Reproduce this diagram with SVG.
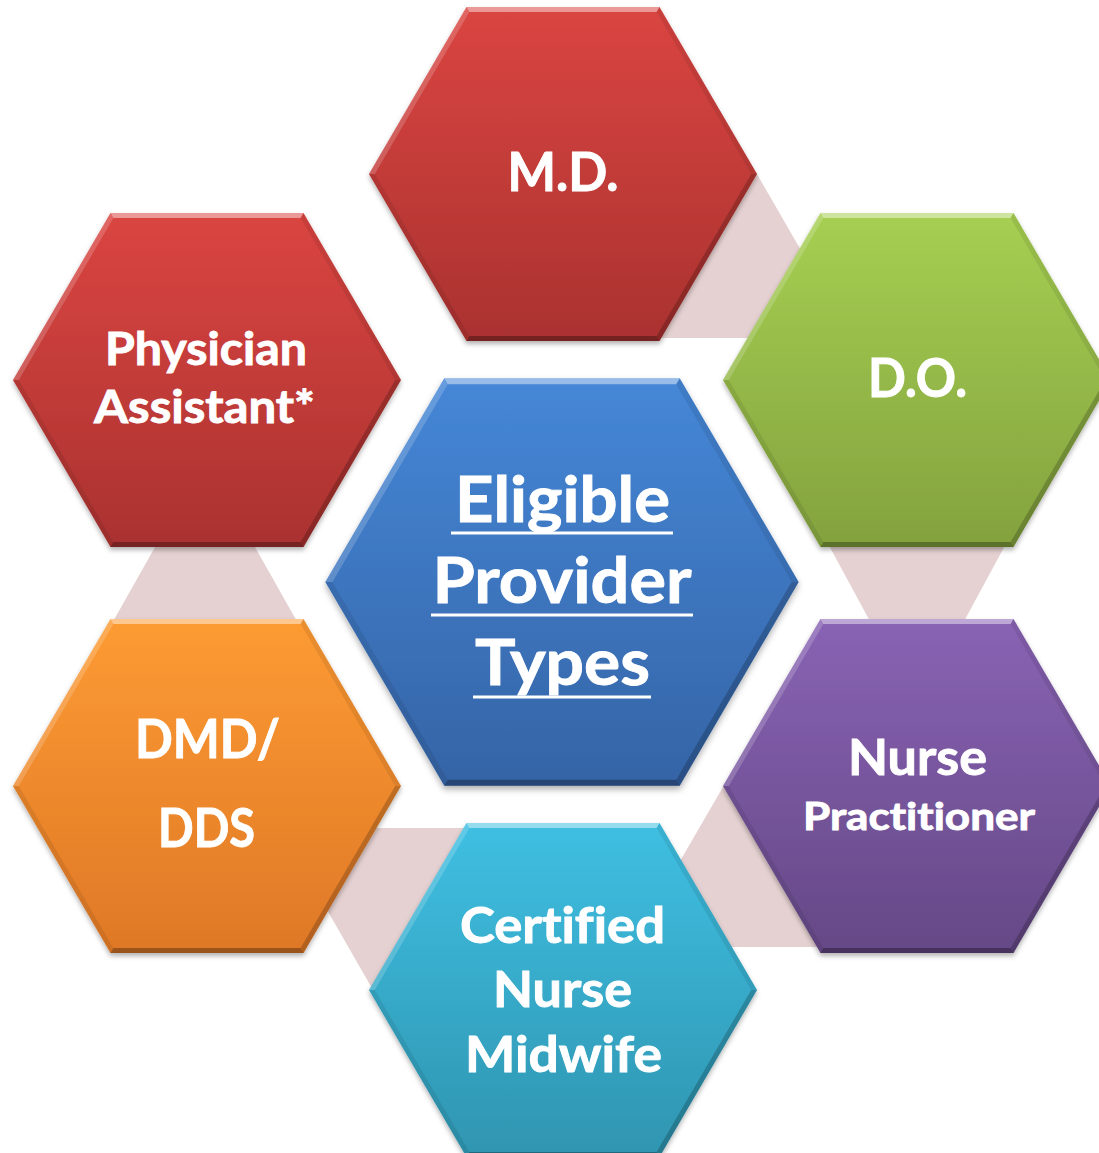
<svg xmlns="http://www.w3.org/2000/svg" xmlns:xlink="http://www.w3.org/1999/xlink" width="1099" height="1153" viewBox="0 0 1099 1153">
<defs>
<style>
.t{font-family:Lato,"Open Sans","Liberation Sans",sans-serif;font-weight:700;fill:#fff;stroke:#fff;stroke-width:0.9;text-anchor:middle;font-variant-ligatures:none;font-feature-settings:"liga" 0,"dlig" 0}
.conn{fill:#E5D1D1}
.ul{fill:#fff}
</style>
<linearGradient id="gRed" x1="0" y1="0" x2="0" y2="1"><stop offset="0" stop-color="#DA4541"/><stop offset="1" stop-color="#AA3230"/></linearGradient>
<linearGradient id="gGreen" x1="0" y1="0" x2="0" y2="1"><stop offset="0" stop-color="#A6CF52"/><stop offset="1" stop-color="#83A23E"/></linearGradient>
<linearGradient id="gBlue" x1="0" y1="0" x2="0" y2="1"><stop offset="0" stop-color="#4587D7"/><stop offset="1" stop-color="#3564A6"/></linearGradient>
<linearGradient id="gOrange" x1="0" y1="0" x2="0" y2="1"><stop offset="0" stop-color="#FD9B33"/><stop offset="1" stop-color="#DF7827"/></linearGradient>
<linearGradient id="gPurple" x1="0" y1="0" x2="0" y2="1"><stop offset="0" stop-color="#8963B4"/><stop offset="1" stop-color="#654886"/></linearGradient>
<linearGradient id="gCyan" x1="0" y1="0" x2="0" y2="1"><stop offset="0" stop-color="#3FBFE2"/><stop offset="1" stop-color="#2F95B0"/></linearGradient>
<filter id="sh" x="-10%" y="-10%" width="120%" height="125%">
<feDropShadow dx="0" dy="3" stdDeviation="2.5" flood-color="#000" flood-opacity="0.3"/>
</filter>
<polygon id="hex" points="-194,0 -96.5,-167 96.5,-167 194,0 96.5,167 -96.5,167"/>
<g id="bevel">
<polygon points="-96.5,-167 96.5,-167 93.6,-162 -93.6,-162" fill="#fff" fill-opacity="0.45"/>
<polygon points="-194,0 -96.5,-167 -93.6,-162 -188.2,0" fill="#fff" fill-opacity="0.18"/>
<polygon points="96.5,-167 194,0 188.2,0 93.6,-162" fill="#000" fill-opacity="0.08"/>
<polygon points="194,0 96.5,167 93.6,162 188.2,0" fill="#000" fill-opacity="0.2"/>
<polygon points="96.5,167 -96.5,167 -93.6,162 93.6,162" fill="#000" fill-opacity="0.3"/>
<polygon points="-96.5,167 -194,0 -188.2,0 -93.6,162" fill="#000" fill-opacity="0.08"/>
</g>
</defs>
<rect width="1099" height="1153" fill="#fff"/>
<g id="connectors">
<polygon class="conn" points="740,174 757,174 840,318 840,338 650,338"/>
<polygon class="conn" points="826,540 1008,540 962,625 872,625"/>
<polygon class="conn" points="723,787 640,930 640,947 830,947 740,787"/>
<polygon class="conn" points="280,828 480,828 480,990 373,990"/>
<polygon class="conn" points="159,540 251,540 299,625 111,625"/>
</g>
<g id="node-md">
<g transform="translate(563,174)" filter="url(#sh)"><use xlink:href="#hex" fill="url(#gRed)"/><use xlink:href="#bevel"/></g>
<text class="t" x="563" y="191" font-size="53" textLength="111" lengthAdjust="spacingAndGlyphs">M.D.</text>
</g>
<g id="node-do">
<g transform="translate(917,380)" filter="url(#sh)"><use xlink:href="#hex" fill="url(#gGreen)"/><use xlink:href="#bevel"/></g>
<text class="t" x="917.5" y="397" font-size="53" textLength="99" lengthAdjust="spacingAndGlyphs">D.O.</text>
</g>
<g id="node-pa">
<g transform="translate(207,380)" filter="url(#sh)"><use xlink:href="#hex" fill="url(#gRed)"/><use xlink:href="#bevel"/></g>
<text class="t" x="206" y="365" font-size="45" textLength="202" lengthAdjust="spacingAndGlyphs">Physician</text>
<text class="t" x="204.5" y="423" font-size="45" textLength="221" lengthAdjust="spacingAndGlyphs">Assistant*</text>
</g>
<g id="node-center">
<g transform="translate(562,582) scale(1.22)" filter="url(#sh)"><use xlink:href="#hex" fill="url(#gBlue)"/><use xlink:href="#bevel"/></g>
<text class="t" x="562.5" y="522" font-size="64" textLength="215" lengthAdjust="spacingAndGlyphs">Eligible</text>
<rect class="ul" x="451" y="531.5" width="222" height="3"/>
<text class="t" x="562" y="603" font-size="64" textLength="259" lengthAdjust="spacingAndGlyphs">Provider</text>
<rect class="ul" x="431" y="613.5" width="262" height="3"/>
<text class="t" x="562.5" y="685" font-size="64" textLength="175" lengthAdjust="spacingAndGlyphs">Types</text>
<rect class="ul" x="473" y="695.5" width="178" height="3"/>
</g>
<g id="node-dmd">
<g transform="translate(207,786)" filter="url(#sh)"><use xlink:href="#hex" fill="url(#gOrange)"/><use xlink:href="#bevel"/></g>
<text class="t" x="207.5" y="758" font-size="53" textLength="145" lengthAdjust="spacingAndGlyphs">DMD/</text>
<text class="t" x="206.5" y="847" font-size="53" textLength="97" lengthAdjust="spacingAndGlyphs">DDS</text>
</g>
<g id="node-np">
<g transform="translate(917,786)" filter="url(#sh)"><use xlink:href="#hex" fill="url(#gPurple)"/><use xlink:href="#bevel"/></g>
<text class="t" x="917.5" y="775" font-size="50" textLength="139" lengthAdjust="spacingAndGlyphs">Nurse</text>
<text class="t" x="919" y="830" font-size="38" textLength="232" lengthAdjust="spacingAndGlyphs">Practitioner</text>
</g>
<g id="node-cnm">
<g transform="translate(563,990)" filter="url(#sh)"><use xlink:href="#hex" fill="url(#gCyan)"/><use xlink:href="#bevel"/></g>
<text class="t" x="562.5" y="943" font-size="50" textLength="205" lengthAdjust="spacingAndGlyphs">Certified</text>
<text class="t" x="562.5" y="1007" font-size="50" textLength="139" lengthAdjust="spacingAndGlyphs">Nurse</text>
<text class="t" x="563.5" y="1072" font-size="50" textLength="197" lengthAdjust="spacingAndGlyphs">Midwife</text>
</g>
</svg>
